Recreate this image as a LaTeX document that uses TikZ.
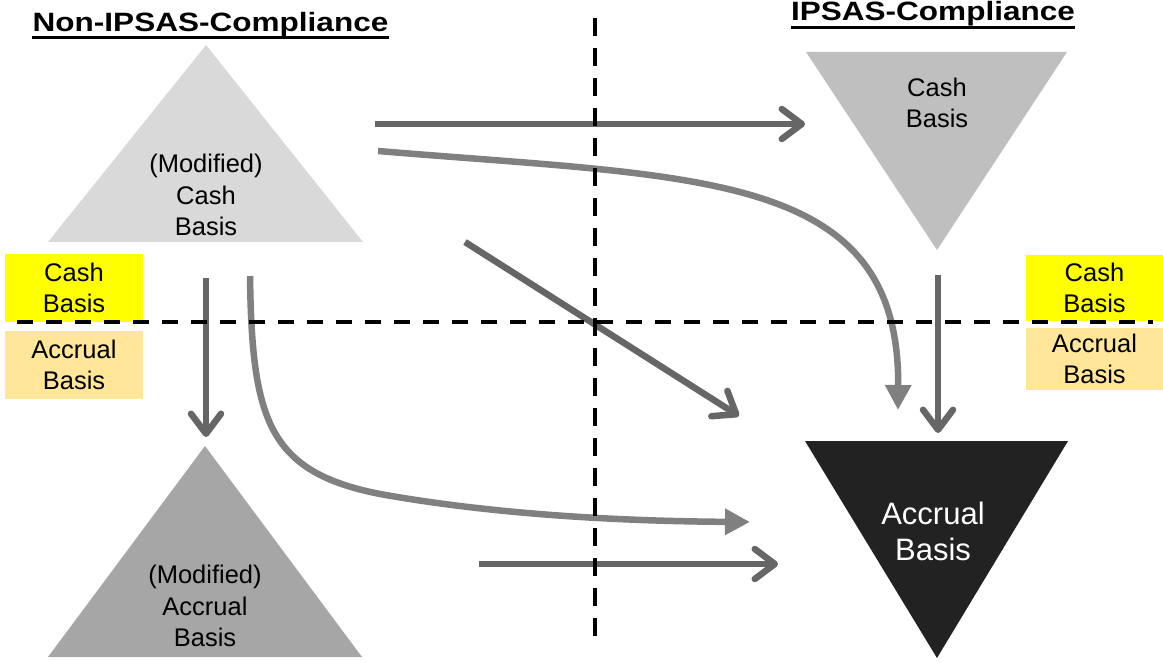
\documentclass[tikz,border=0pt]{standalone}
\usepackage{fontspec}
\usepackage{graphicx}
\setmainfont{Liberation Sans}
\usetikzlibrary{arrows.meta}
\definecolor{triLight}{HTML}{D9D9D9}
\definecolor{triMid}{HTML}{BFBFBF}
\definecolor{triDark}{HTML}{A6A6A6}
\definecolor{triBlack}{HTML}{222222}
\definecolor{arrowDark}{HTML}{666666}
\definecolor{arrowLight}{HTML}{808080}
\definecolor{boxYellow}{HTML}{FFFF00}
\definecolor{boxCream}{HTML}{FFE699}

\begin{document}
\begin{tikzpicture}[x=1pt,y=-1pt,
  lbl/.style={font=\fontsize{25.5}{31.5}\selectfont, align=center, inner sep=0pt},
  biglbl/.style={font=\fontsize{31}{36}\selectfont, align=center, inner sep=0pt, text=white},
  heading/.style={font=\fontsize{26.5}{30}\selectfont\bfseries, inner sep=0pt, anchor=base},
  basisbox/.style={lbl, minimum width=138pt},
  straightarrow/.style={draw=arrowDark, line width=6.5pt,
    -{Straight Barb[length=20pt,width=30pt,round]}},
  curvedarrow/.style={draw=arrowLight, line width=6.5pt,
    -{Triangle[length=25pt,width=25pt]}},
  divider/.style={draw=black, line width=3.5pt},
]
\useasboundingbox (0,0) rectangle (1163,663);

% headings
\node[heading] (hNon) at (210.5,32) {\scalebox{1.19}[1]{Non-IPSAS-Compliance}};
\draw[line width=3pt] ([yshift=-6pt]hNon.base west) -- ([yshift=-6pt]hNon.base east);
\node[heading] (hIps) at (933,21) {\scalebox{1.19}[1]{IPSAS-Compliance}};
\draw[line width=3pt] ([yshift=-7pt]hIps.base west) -- ([yshift=-7pt]hIps.base east);

% triangles
\fill[triLight] (206,45) -- (363,242) -- (48,242) -- cycle;
\fill[triDark] (205,446) -- (362,657) -- (48,657) -- cycle;
\fill[triMid] (806,52) -- (1067,52) -- (937,250) -- cycle;
\fill[triBlack] (805,441) -- (1068,441) -- (937,658) -- cycle;

\node[lbl] (tlText) at (206,195) {(Modified)\\Cash\\Basis};
\node[lbl] (blText) at (205,606) {(Modified)\\Accrual\\Basis};
\node[lbl] (trText) at (937,103) {Cash\\Basis};
\node[biglbl] (brText) at (933,531) {Accrual\\Basis};

% side legend boxes
\node[basisbox, fill=boxYellow, minimum height=68pt] (lCash) at (74,288) {Cash\\Basis};
\node[basisbox, fill=boxCream, minimum height=68pt] (lAcc) at (74,365) {Accrual\\Basis};
\node[basisbox, fill=boxYellow, minimum width=137pt, minimum height=66pt] (rCash) at (1094.5,288) {Cash\\Basis};
\node[basisbox, fill=boxCream, minimum width=137pt, minimum height=62pt] (rAcc) at (1094.5,359) {Accrual\\Basis};

% arrow end points
\coordinate (topS) at (375,124);   \coordinate (topE) at (805,124);
\coordinate (leftS) at (206,278);  \coordinate (leftE) at (206,437);
\coordinate (diagS) at (465,242);  \coordinate (diagE) at (739,416);
\coordinate (rightS) at (938,275); \coordinate (rightE) at (938,433);
\coordinate (botS) at (479,564);   \coordinate (botE) at (778,564);
\coordinate (upS) at (378,151);    \coordinate (upE) at (898,410);
\coordinate (lowS) at (250,276);   \coordinate (lowM) at (380,494);
\coordinate (lowE) at (750,522);

% arrows
\draw[straightarrow] (topS) -- (topE);
\draw[straightarrow] (leftS) -- (leftE);
\draw[straightarrow] (diagS) -- (diagE);
\draw[straightarrow] (rightS) -- (rightE);
\draw[straightarrow] (botS) -- (botE);
\draw[curvedarrow] (upS) .. controls (700,178) and (900,170) .. (upE);
\draw[curvedarrow] (lowS) .. controls (252,420) and (268,472) .. (lowM)
  .. controls (480,512) and (600,521) .. (lowE);

% quadrant dividers
\coordinate (vTop) at (595,18);  \coordinate (vBot) at (595,640);
\coordinate (hL) at (17,322);    \coordinate (hR) at (1153,322);
\draw[divider, dash pattern=on 18pt off 12pt] (vTop) -- (vBot);
\draw[divider, dash pattern=on 16pt off 13pt] (hL) -- (hR);
\end{tikzpicture}
\end{document}
